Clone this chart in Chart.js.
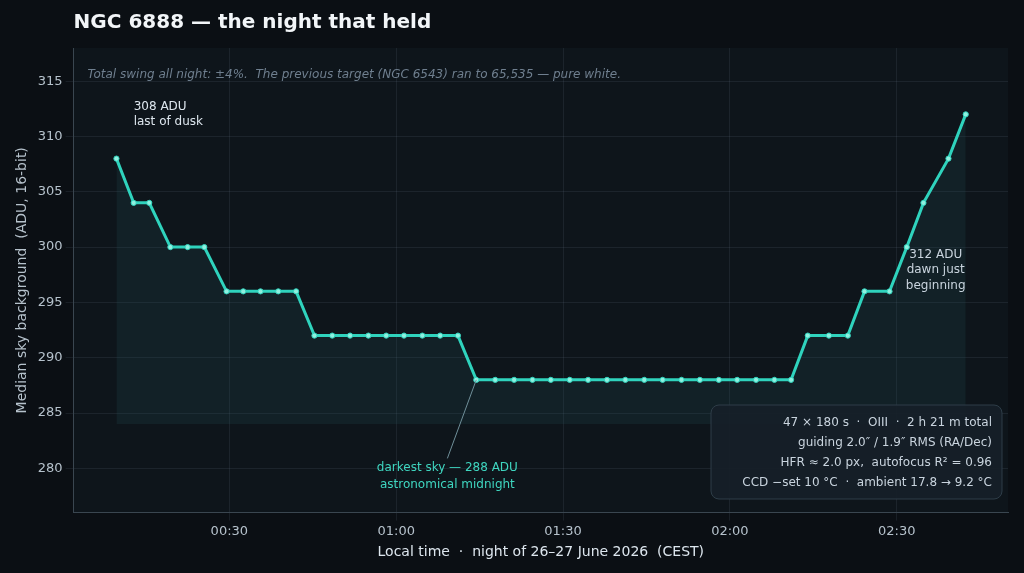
<!DOCTYPE html>
<html>
<head>
<meta charset="utf-8">
<script src="https://cdn.jsdelivr.net/npm/chart.js@4"></script>
<style>
  html, body { margin: 0; background: #0b0f14; }
  #wrap { width: 1024px; height: 573px; }
</style>
</head>
<body>
<div id="wrap"><canvas id="c"></canvas></div>
<script>
// minutes after midnight, local time (CEST)
const frameMinutes = [9.7, 12.8, 15.6, 19.4, 22.5, 25.5, 29.5, 32.5, 35.6, 38.8, 42.0,
  45.3, 48.5, 51.7, 55.0, 58.2, 61.4, 64.7, 67.9, 71.1,
  74.4, 77.8, 81.2, 84.5, 87.8, 91.2, 94.5, 97.9, 101.2, 104.6, 107.9, 111.3, 114.6, 118.0, 121.3, 124.7, 128.0, 131.0,
  134.0, 137.8, 141.2, 144.2, 148.7, 151.8, 154.8, 159.3, 162.4];
const skyADU = [308, 304, 304, 300, 300, 300, 296, 296, 296, 296, 296,
  292, 292, 292, 292, 292, 292, 292, 292, 292,
  288, 288, 288, 288, 288, 288, 288, 288, 288, 288, 288, 288, 288, 288, 288, 288, 288, 288,
  292, 292, 292, 296, 296, 300, 304, 308, 312];
const tickLabels = { 30: '00:30', 60: '01:00', 90: '01:30', 120: '02:00', 150: '02:30' };
const infoLines = [
  '47 × 180 s  ·  OIII  ·  2 h 21 m total',
  'guiding 2.0″ / 1.9″ RMS (RA/Dec)',
  'HFR ≈ 2.0 px,  autofocus R² = 0.96',
  'CCD −set 10 °C  ·  ambient 17.8 → 9.2 °C'
];

const FONT = 'DejaVu Sans';

const notes = {
  id: 'notes',
  afterDatasetsDraw(chart) {
    const { ctx, scales: { x, y }, chartArea } = chart;
    ctx.save();
    // title, aligned with plot area
    ctx.font = 'bold 20px ' + FONT;
    ctx.fillStyle = '#f2f5f8';
    ctx.textAlign = 'left';
    ctx.textBaseline = 'middle';
    ctx.fillText('NGC 6888 — the night that held', chartArea.left, 23);

    ctx.font = 'italic 12px ' + FONT;
    ctx.fillStyle = '#6f7f8f';
    ctx.fillText('Total swing all night: ±4%.  The previous target (NGC 6543) ran to 65,535 — pure white.', chartArea.left + 14, y.getPixelForValue(315.6));

    ctx.font = '12px ' + FONT;
    ctx.fillStyle = '#dde6ee';
    ctx.fillText('308 ADU', x.getPixelForValue(12.8), y.getPixelForValue(312.7));
    ctx.fillText('last of dusk', x.getPixelForValue(12.8), y.getPixelForValue(311.3));

    ctx.textAlign = 'center';
    ctx.fillStyle = '#c9d4de';
    ctx.fillText('312 ADU', x.getPixelForValue(157), y.getPixelForValue(299.3));
    ctx.fillText('dawn just', x.getPixelForValue(157), y.getPixelForValue(297.9));
    ctx.fillText('beginning', x.getPixelForValue(157), y.getPixelForValue(296.5));

    // darkest sky callout
    ctx.strokeStyle = '#6f8f99';
    ctx.lineWidth = 1;
    ctx.beginPath();
    ctx.moveTo(x.getPixelForValue(74.4), y.getPixelForValue(288));
    ctx.lineTo(x.getPixelForValue(69.2), y.getPixelForValue(280.9));
    ctx.stroke();
    ctx.fillStyle = '#3fd6c0';
    ctx.fillText('darkest sky — 288 ADU', x.getPixelForValue(69.2), y.getPixelForValue(280));
    ctx.fillText('astronomical midnight', x.getPixelForValue(69.2), y.getPixelForValue(278.5));

    // info box
    const bx = 711, by = 405, bw = 291, bh = 94;
    ctx.fillStyle = 'rgba(22,32,40,0.92)';
    ctx.strokeStyle = '#2e3d48';
    ctx.beginPath();
    ctx.roundRect(bx, by, bw, bh, 8);
    ctx.fill();
    ctx.stroke();
    ctx.fillStyle = '#c9d4de';
    ctx.textAlign = 'right';
    infoLines.forEach((t, i) => ctx.fillText(t, bx + bw - 10, by + 18 + i * 20));
    ctx.restore();
  }
};

new Chart(document.getElementById('c'), {
  type: 'line',
  data: {
    datasets: [{
      data: frameMinutes.map((m, i) => ({ x: m, y: skyADU[i] })),
      borderColor: '#2fd3bd',
      borderWidth: 3,
      backgroundColor: 'rgba(40,90,95,0.18)',
      fill: { value: 284 },
      pointRadius: 2.6,
      pointBackgroundColor: '#8ff0df',
      pointBorderColor: '#2fd3bd',
      pointBorderWidth: 1,
      tension: 0
    }]
  },
  options: {
    responsive: true,
    maintainAspectRatio: false,
    animation: false,
    layout: { padding: { left: 10, right: 16, top: 48, bottom: 8 } },
    scales: {
      x: {
        type: 'linear',
        min: 2,
        max: 170,
        afterBuildTicks: axis => { axis.ticks = Object.keys(tickLabels).map(v => ({ value: +v })); },
        ticks: {
          color: '#b6c2cc',
          font: { family: FONT, size: 13 },
          callback: v => tickLabels[v] || ''
        },
        grid: { color: 'rgba(120,140,160,0.13)' },
        border: { color: '#3a4650' },
        title: {
          display: true,
          text: 'Local time  ·  night of 26–27 June 2026  (CEST)',
          color: '#dde6ee',
          font: { family: FONT, size: 14 },
          padding: { top: 2 }
        }
      },
      y: {
        min: 276,
        max: 318,
        afterBuildTicks: axis => { axis.ticks = [280, 285, 290, 295, 300, 305, 310, 315].map(v => ({ value: v })); },
        ticks: { color: '#b6c2cc', font: { family: FONT, size: 13 } },
        grid: { color: 'rgba(120,140,160,0.13)' },
        border: { color: '#3a4650' },
        title: {
          display: true,
          text: 'Median sky background  (ADU, 16-bit)',
          color: '#b6c2cc',
          font: { family: FONT, size: 14 }
        }
      }
    },
    plugins: {
      legend: { display: false },
      tooltip: { enabled: false },
      title: { display: false }
    }
  },
  plugins: [notes, {
    id: 'bg',
    beforeDraw(chart) {
      const { ctx, chartArea: a } = chart;
      ctx.save();
      ctx.fillStyle = '#0b0f14';
      ctx.fillRect(0, 0, chart.width, chart.height);
      ctx.fillStyle = '#0e151b';
      ctx.fillRect(a.left, a.top, a.right - a.left, a.bottom - a.top);
      ctx.restore();
    }
  }]
});
</script>
</body>
</html>
